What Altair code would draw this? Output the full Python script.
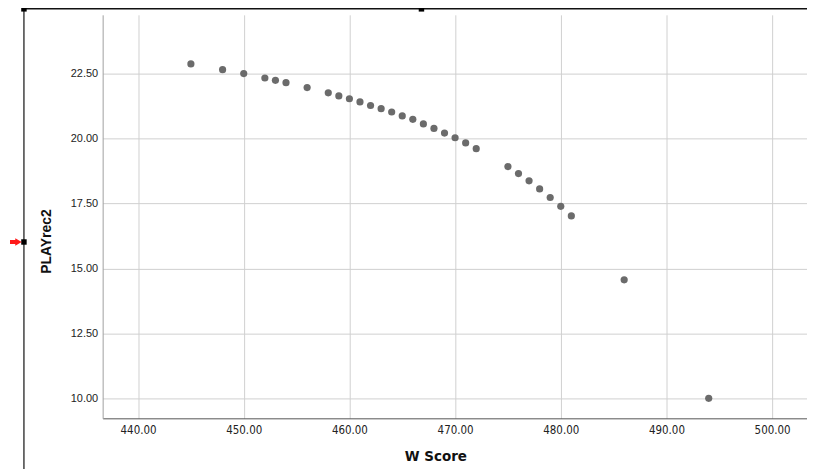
import altair as alt
import pandas as pd

w_score = [445, 448, 450, 452, 453, 454, 456, 458, 459, 460, 461, 462, 463, 464,
           465, 466, 467, 468, 469, 470, 471, 472, 475, 476, 477, 478, 479, 480,
           481, 486, 494]
playrec2 = [22.87, 22.65, 22.50, 22.33, 22.24, 22.15, 21.96, 21.76, 21.64, 21.53,
            21.41, 21.27, 21.15, 21.02, 20.87, 20.74, 20.56, 20.39, 20.21, 20.03,
            19.83, 19.61, 18.92, 18.65, 18.37, 18.06, 17.73, 17.39, 17.02, 14.56,
            10.00]
x_ticks = [440, 450, 460, 470, 480, 490, 500]
y_ticks = [10.0, 12.5, 15.0, 17.5, 20.0, 22.5]

df = pd.DataFrame({"W Score": w_score, "PLAYrec2": playrec2})

W, H = 707, 405
NARROW = "Liberation Sans Narrow, DejaVu Sans Condensed, Liberation Sans, sans-serif"

points = alt.Chart(df).mark_circle(size=52, color="#6b6b6b", opacity=1).encode(
    x=alt.X("W Score:Q",
            scale=alt.Scale(domain=[436.65, 503.3], nice=False, zero=False),
            axis=alt.Axis(values=x_ticks, format=".2f", grid=True, gridColor="#d0d0d0",
                          ticks=False, domainColor="#555555", labelPadding=6,
                          labelFont=NARROW, labelFontSize=11.5,
                          labelColor="#222222", title="W Score",
                          titleFont=NARROW, titleFontSize=15,
                          titleFontWeight="bold", titleColor="#111111",
                          titleX=334, titleY=37, titleAlign="center",
                          titleBaseline="middle")),
    y=alt.Y("PLAYrec2:Q",
            scale=alt.Scale(domain=[9.23, 24.76], nice=False, zero=False),
            axis=alt.Axis(values=y_ticks, format=".2f", grid=True, gridColor="#d0d0d0",
                          ticks=False, domainColor="#a0a0a0", labelPadding=5,
                          labelFont="Liberation Sans, Arial, sans-serif", labelFontSize=11,
                          labelColor="#222222", title="PLAYrec2",
                          titleFont="Liberation Sans, Arial, sans-serif", titleFontSize=14,
                          titleFontWeight="bold", titleColor="#111111",
                          titleX=-56, titleY=227, titleAlign="center",
                          titleBaseline="middle")),
)

# editor selection frame decorations
deco = pd.DataFrame({"k": [0]})
top_line = alt.Chart(deco).mark_rule(color="#111111", strokeWidth=1.5).encode(
    x=alt.value(-79), x2=alt.value(720), y=alt.value(-6))
left_line = alt.Chart(deco).mark_rule(color="#111111", strokeWidth=1.2).encode(
    x=alt.value(-79), y=alt.value(-6), y2=alt.value(470))
sq = lambda xx, yy: alt.Chart(deco).mark_square(size=30, color="#000000", opacity=1).encode(
    x=alt.value(xx), y=alt.value(yy))
arrow_tail = alt.Chart(deco).mark_rule(color="#ff1a1a", strokeWidth=4).encode(
    x=alt.value(-93), x2=alt.value(-87), y=alt.value(228))
arrow_head = alt.Chart(deco).mark_point(shape="triangle-right", size=55, filled=True,
                                        color="#ff1a1a", opacity=1).encode(
    x=alt.value(-84.5), y=alt.value(228))

chart = alt.layer(
    points, top_line, left_line,
    sq(-79, -6), sq(320, -6), sq(-79, 228), sq(-79, 459), sq(320, 459),
    arrow_tail, arrow_head
).properties(
    width=W, height=H,
    autosize=alt.AutoSizeParams(type="none"),
    padding={"left": 95, "top": 6, "right": 0, "bottom": 50},
).configure_view(stroke=None)

chart.save("out.html", embed_options={"renderer": "svg", "actions": False})
